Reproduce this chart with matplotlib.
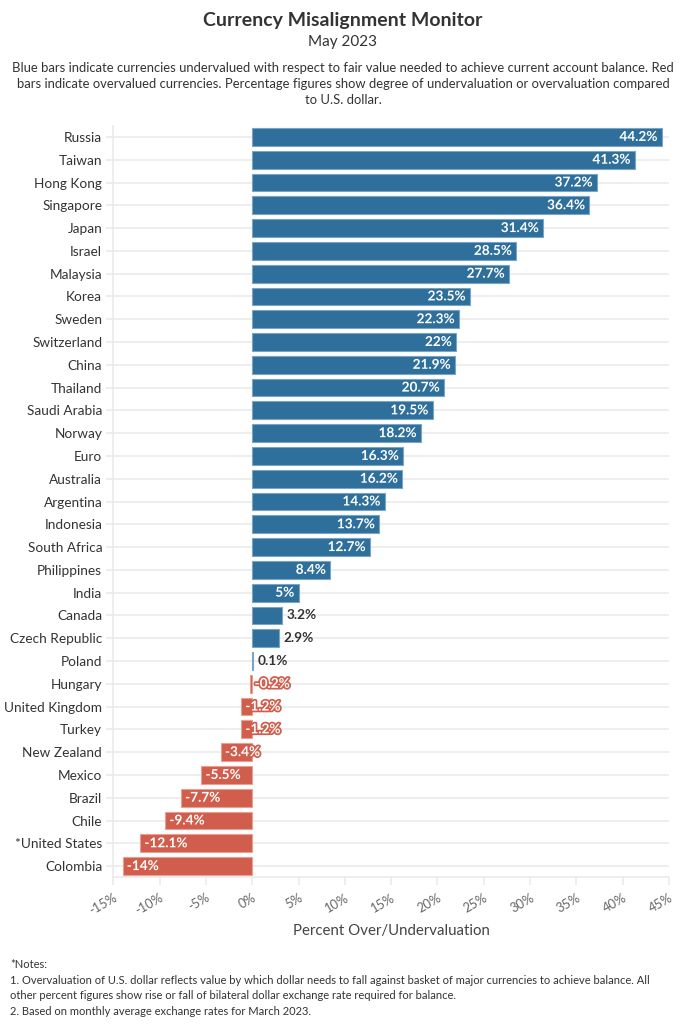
import matplotlib
matplotlib.use("Agg")
import matplotlib.pyplot as plt
import matplotlib.patheffects as pe

# Data (percent over/undervaluation vs U.S. dollar)
countries = ["Russia", "Taiwan", "Hong Kong", "Singapore", "Japan", "Israel",
             "Malaysia", "Korea", "Sweden", "Switzerland", "China", "Thailand",
             "Saudi Arabia", "Norway", "Euro", "Australia", "Argentina",
             "Indonesia", "South Africa", "Philippines", "India", "Canada",
             "Czech Republic", "Poland", "Hungary", "United Kingdom", "Turkey",
             "New Zealand", "Mexico", "Brazil", "Chile", "*United States",
             "Colombia"]
values = [44.2, 41.3, 37.2, 36.4, 31.4, 28.5, 27.7, 23.5, 22.3, 22, 21.9, 20.7,
          19.5, 18.2, 16.3, 16.2, 14.3, 13.7, 12.7, 8.4, 5, 3.2, 2.9, 0.1, -0.2,
          -1.2, -1.2, -3.4, -5.5, -7.7, -9.4, -12.1, -14]
x_ticks = [-15, -10, -5, 0, 5, 10, 15, 20, 25, 30, 35, 40, 45]

BLUE = "#2e6f9b"
BLUE_EDGE = "#7aa5c4"
RED = "#d15d4c"
RED_EDGE = "#e8a094"
DARK = "#333333"
GRID = "#ebebeb"

plt.rcParams['font.family'] = ['Lato', 'DejaVu Sans']

fig = plt.figure(figsize=(6.86, 10.24), dpi=100)
ax = fig.add_axes([0.1652, 0.1431, 0.8100, 0.7343])

ypos = list(range(len(countries)))
colors = [BLUE if v >= 0 else RED for v in values]
edges = [BLUE_EDGE if v >= 0 else RED_EDGE for v in values]
ax.barh(ypos, values, height=0.78, color=colors, edgecolor=edges,
        linewidth=0.8, zorder=3)

# Value labels: inside the bar end, outside when the bar is too short
for y, v, c in zip(ypos, values, colors):
    txt = f"{v:g}%"
    if v < 0:
        ax.text(v + 0.45, y, txt, ha='left', va='center', color='white',
                fontsize=9.8, fontweight='bold', zorder=4,
                path_effects=[pe.withStroke(linewidth=2.5, foreground=c)])
    elif v >= 4:
        ax.text(v - 0.45, y, txt, ha='right', va='center', color='white',
                fontsize=9.8, fontweight='bold', zorder=4,
                path_effects=[pe.withStroke(linewidth=2.5, foreground=c)])
    else:
        ax.text(v + 0.5, y, txt, ha='left', va='center', color=DARK,
                fontsize=9.8, fontweight='bold', zorder=4)

ax.set_ylim(len(countries) - 0.5, -0.5)
ax.set_xlim(-15, 45)
ax.set_yticks(ypos)
ax.set_yticklabels(countries, fontsize=9.8, color=DARK)
ax.set_xticks(x_ticks)
ax.set_xticklabels([f"{t}%" for t in x_ticks], rotation=30, ha='right',
                   rotation_mode='anchor', fontsize=9.3, color="#666666")

ax.grid(axis='y', color=GRID, linewidth=1.2, zorder=0)
ax.tick_params(axis='y', length=5, color=GRID, width=1.2, pad=3)
ax.tick_params(axis='x', length=6, color=GRID, width=1.2, pad=4)
for side in ['top', 'right']:
    ax.spines[side].set_visible(False)
for side in ['left', 'bottom']:
    ax.spines[side].set_color(GRID)
    ax.spines[side].set_linewidth(1.2)

ax.set_xlabel("Percent Over/Undervaluation", fontsize=10.8, color="#444444",
              labelpad=5)

# Titles
fig.text(0.5, 0.980, "Currency Misalignment Monitor", ha='center', va='center',
         fontsize=14, fontweight='bold', color=DARK)
fig.text(0.5, 0.959, "May 2023", ha='center', va='center', fontsize=11,
         color=DARK)
fig.text(0.5, 0.918,
         "Blue bars indicate currencies undervalued with respect to fair value needed to achieve current account balance. Red\n"
         "bars indicate overvalued currencies. Percentage figures show degree of undervaluation or overvaluation compared\n"
         "to U.S. dollar.",
         ha='center', va='center', fontsize=9.35, color=DARK, linespacing=1.36)

# Notes
fig.text(0.0146, 0.007,
         "*Notes:\n"
         "1. Overvaluation of U.S. dollar reflects value by which dollar needs to fall against basket of major currencies to achieve balance. All\n"
         "other percent figures show rise or fall of bilateral dollar exchange rate required for balance.\n"
         "2. Based on monthly average exchange rates for March 2023.",
         ha='left', va='bottom', fontsize=8, color=DARK, linespacing=1.5)

fig.savefig("out.png", dpi=100)
